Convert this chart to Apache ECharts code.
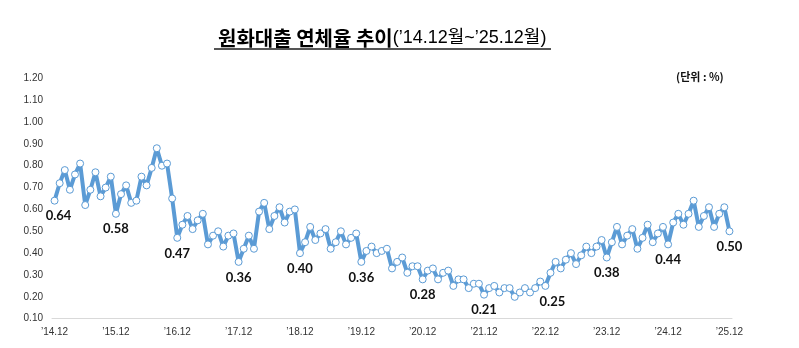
<!DOCTYPE html>
<html>
<head>
<meta charset="utf-8">
<script src="https://cdn.jsdelivr.net/npm/echarts@6/dist/echarts.min.js"></script>
<style>html,body{margin:0;padding:0;background:#fff;}#c{width:799px;height:348px;}</style>
</head>
<body>
<div id="c"></div>
<script>
// Monthly delinquency rate (%), Dec 2014 .. Dec 2025
var v2014 = [0.64];
var v2015 = [0.72,0.78,0.69,0.76,0.81,0.62,0.69,0.77,0.66,0.70,0.75,0.58];
var v2016 = [0.67,0.71,0.63,0.64,0.75,0.71,0.79,0.88,0.80,0.81,0.65,0.47];
var v2017 = [0.53,0.57,0.51,0.55,0.58,0.44,0.48,0.50,0.43,0.48,0.49,0.36];
var v2018 = [0.42,0.48,0.42,0.59,0.63,0.51,0.57,0.61,0.54,0.59,0.60,0.40];
var v2019 = [0.45,0.52,0.46,0.49,0.51,0.42,0.45,0.50,0.44,0.47,0.49,0.36];
var v2020 = [0.41,0.43,0.40,0.41,0.42,0.33,0.36,0.38,0.31,0.34,0.34,0.28];
var v2021 = [0.32,0.33,0.28,0.31,0.32,0.25,0.28,0.28,0.24,0.26,0.26,0.21];
var v2022 = [0.24,0.25,0.22,0.24,0.24,0.20,0.22,0.24,0.22,0.24,0.27,0.25];
var v2023 = [0.31,0.36,0.33,0.37,0.40,0.35,0.39,0.43,0.40,0.43,0.46,0.38];
var v2024 = [0.45,0.52,0.44,0.48,0.51,0.42,0.47,0.53,0.45,0.49,0.52,0.44];
var v2025 = [0.54,0.58,0.53,0.58,0.64,0.52,0.57,0.61,0.52,0.58,0.61,0.50];

var years = ['14','15','16','17','18','19','20','21','22','23','24','25'];
var months = ['01','02','03','04','05','06','07','08','09','10','11','12'];
var xTickLabels = ['\u201914.12','\u201915.12','\u201916.12','\u201917.12','\u201918.12','\u201919.12',
                   '\u201920.12','\u201921.12','\u201922.12','\u201923.12','\u201924.12','\u201925.12'];
var yTicks = [0.10,0.20,0.30,0.40,0.50,0.60,0.70,0.80,0.90,1.00,1.10,1.20];

var values = [].concat(v2014,v2015,v2016,v2017,v2018,v2019,v2020,v2021,v2022,v2023,v2024,v2025);
var categories = ['14.12'];
for (var y = 1; y < years.length; y++) {
  for (var m = 0; m < 12; m++) categories.push(years[y] + '.' + months[m]);
}

var labelOffsets = {'14.12':[4,0], '22.12':[7,0]};
var seriesData = values.map(function (v, i) {
  var c = categories[i];
  if (c.slice(3) === '12') {
    return { value: v, label: { show: true, offset: labelOffsets[c] || [0,0] } };
  }
  return v;
});

var chart = echarts.init(document.getElementById('c'));
chart.setOption({
  animation: false,
  backgroundColor: '#fff',
  title: {
    left: 213, top: 23,
    text: '{a|원화대출 연체율 추이}{b|(\u201914.12월~\u201925.12월)}',
    textStyle: {
      rich: {
        a: { fontSize: 20, fontWeight: 'bold', color: '#000', fontFamily: 'Noto Sans CJK KR' },
        b: { fontSize: 18, fontWeight: 'normal', color: '#000', fontFamily: 'Liberation Sans Narrow, Liberation Sans, Noto Sans CJK KR' }
      }
    }
  },
  graphic: [
    { type: 'rect', shape: { x: 214, y: 48, width: 337, height: 2 }, style: { fill: '#555' } },
    { type: 'text', left: 676, top: 71, style: { text: '(단위 : %)', fontSize: 11, fontWeight: 'bold', fill: '#111', fontFamily: 'Noto Sans CJK KR' } }
  ],
  grid: { left: 52, right: 67, top: 78.3, bottom: 29.3, containLabel: false },
  xAxis: {
    type: 'category',
    data: categories,
    boundaryGap: true,
    axisLine: { lineStyle: { color: '#d9d9d9', width: 1 } },
    axisTick: { show: false },
    axisLabel: {
      interval: function (i) { return i % 12 === 0; },
      formatter: function (val, i) { return xTickLabels[Math.floor(i / 12)]; },
      fontSize: 10, color: '#333', margin: 9,
      fontFamily: 'Liberation Sans Narrow, Liberation Sans, Arial'
    }
  },
  yAxis: {
    type: 'value',
    min: yTicks[0], max: yTicks[yTicks.length - 1], interval: 0.1,
    splitLine: { show: false },
    axisLine: { show: false },
    axisTick: { show: false },
    axisLabel: {
      formatter: function (v) { return v.toFixed(2); },
      fontSize: 10, color: '#333', margin: 9,
      fontFamily: 'Liberation Sans Narrow, Liberation Sans, Arial'
    }
  },
  series: [{
    type: 'line',
    data: seriesData,
    lineStyle: { color: '#5b9bd5', width: 4 },
    symbol: 'circle',
    symbolSize: 7,
    showAllSymbol: true,
    itemStyle: { color: '#ffffff', borderColor: '#5b9bd5', borderWidth: 1 },
    label: {
      show: false, position: 'bottom', distance: 5,
      formatter: function (p) { return p.value.toFixed(2); },
      fontSize: 13, fontWeight: 'bold', color: '#111',
      fontFamily: 'Lato, Open Sans, sans-serif'
    },
    emphasis: { disabled: true }
  }]
});
</script>
</body>
</html>
